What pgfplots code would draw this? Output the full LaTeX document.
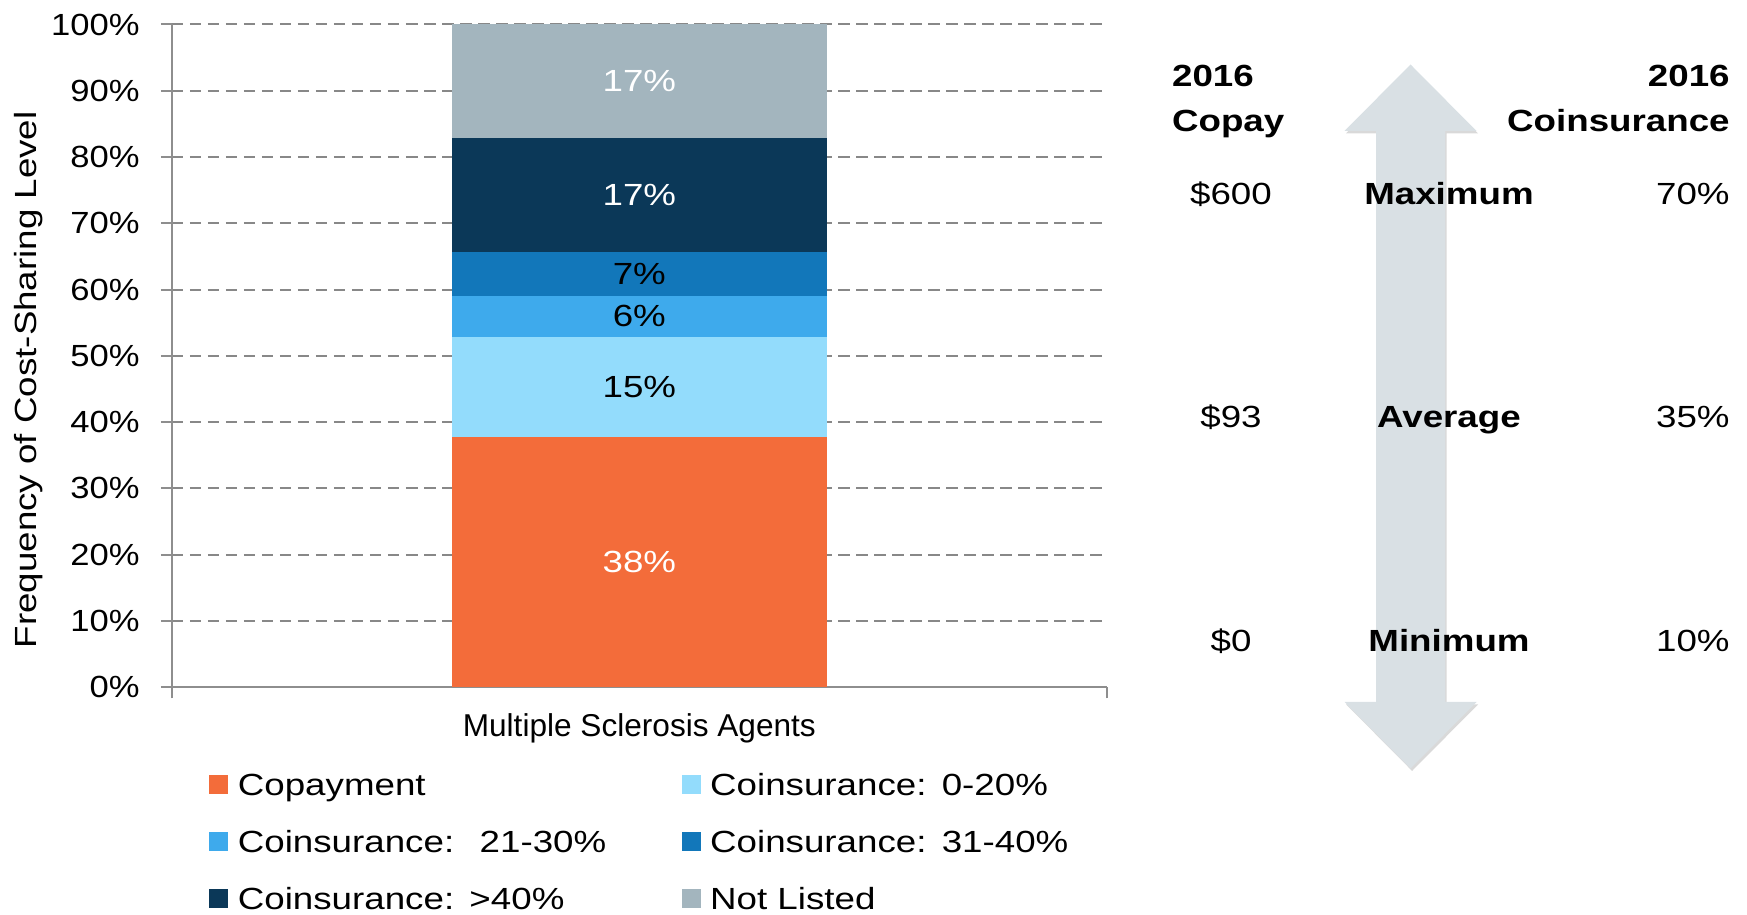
\documentclass[border=0pt]{standalone}
\usepackage{pgfplots}
\pgfplotsset{compat=1.18}
\usepackage{fontspec}
\setmainfont{Liberation Sans}
\newfontfamily\fw{Liberation Sans}[FakeStretch=1.2]
\newfontfamily\ft{Liberation Sans}[FakeStretch=1.13]

\definecolor{copay}{HTML}{F36C3A}
\definecolor{coA}{HTML}{93DCFC}
\definecolor{coB}{HTML}{3EAAEC}
\definecolor{coC}{HTML}{1277BA}
\definecolor{coD}{HTML}{0B3858}
\definecolor{notlisted}{HTML}{A3B5BE}
\definecolor{arrowgray}{HTML}{D9E0E4}
\definecolor{gridgray}{HTML}{888888}
\definecolor{axisgray}{HTML}{8E8E8E}

\newcommand{\fs}{\fontsize{15.3}{18}\selectfont}

\pgfplotsset{
  sqlegend/.style={legend image code/.code={\fill[##1] (0pt,-4.75pt) rectangle (9.5pt,4.75pt);}},
}

\begin{document}
\begin{tikzpicture}
\path[use as bounding box] (-86pt,-113.85pt) rectangle (787.5pt,343.65pt);

\begin{axis}[
  at={(0pt,0pt)}, anchor=south west,
  scale only axis,
  width=467.35pt, height=331.4pt,
  ybar stacked,
  bar width=187.5pt,
  xmin=-1, xmax=1,
  ymin=0, ymax=100,
  xtick={-1,1},
  xticklabels={{},{}},
  extra x ticks={0},
  extra x tick labels={Multiple Sclerosis Agents},
  extra x tick style={major tick length=0pt},
  ytick={0,10,...,100},
  yticklabel={\pgfmathprintnumber{\tick}\%},
  /pgf/number format/assume math mode=true,
  axis x line*=bottom, axis y line*=left,
  axis line style={-, draw=axisgray, line width=1.1pt},
  tick align=outside,
  major tick length=5.5pt,
  tick style={draw=axisgray, line width=1pt},
  ymajorgrids,
  major grid style={draw=gridgray, line width=1pt, dash pattern=on 5.75pt off 3.25pt},
  yticklabel style={font=\ft\fs, anchor=east, inner sep=0pt, xshift=-10.5pt},
  every x tick label/.append style={font=\fontsize{15.8}{18}\selectfont, inner sep=0pt, anchor=north, yshift=-12.8pt},
  ylabel={Frequency of Cost-Sharing Level},
  every axis y label/.style={at={(axis description cs:-0.1535,0.464)}, rotate=90, anchor=center, font=\fw\fs, inner sep=0pt},
  point meta=explicit,
  nodes near coords={\pgfmathprintnumber[fixed,precision=0]{\pgfplotspointmeta}\%},
  every node near coord/.append style={font=\fw\fs, anchor=center},
  legend columns=2,
  legend cell align=left,
  legend style={at={(axis description cs:0.0399,-0.1306)}, anchor=north west,
    draw=none, fill=none, inner sep=0pt, outer sep=0pt, font=\fw\fs,
    row sep=17.4pt,
    nodes={inner sep=0pt, text height=11pt, text depth=0pt, text width=200pt},
    /tikz/every odd column/.append style={column sep=4.8pt},
    /tikz/every even column/.append style={column sep=21.85pt}},
]

\addplot[fill=copay, draw=none, sqlegend, every node near coord/.append style={text=white}]
  table[x=x, y=v, meta=v] {
x v
0 37.7
};
\addlegendentry{Copayment}

\addplot[fill=coA, draw=none, sqlegend, every node near coord/.append style={text=black}]
  table[x=x, y=v, meta=v] {
x v
0 15.1
};
\addlegendentry{Coinsurance: 0-20\%}

\addplot[fill=coB, draw=none, sqlegend, every node near coord/.append style={text=black}]
  table[x=x, y=v, meta=v] {
x v
0 6.3
};
\addlegendentry{Coinsurance:~ 21-30\%}

\addplot[fill=coC, draw=none, sqlegend, every node near coord/.append style={text=black}]
  table[x=x, y=v, meta=v] {
x v
0 6.6
};
\addlegendentry{Coinsurance: 31-40\%}

\addplot[fill=coD, draw=none, sqlegend, every node near coord/.append style={text=white}]
  table[x=x, y=v, meta=v] {
x v
0 17.2
};
\addlegendentry{Coinsurance: >40\%}

\addplot[fill=notlisted, draw=none, sqlegend, every node near coord/.append style={text=white}]
  table[x=x, y=v, meta=v] {
x v
0 17.1
};
\addlegendentry{Not Listed}

\end{axis}

% range arrow
\fill[black, opacity=0.15] ([xshift=0.8pt,yshift=-1.2pt]619.25pt,311.4pt) -- ++(33pt,-33.25pt) -- ++(-15.75pt,0pt) -- ++(0pt,-285.5pt) -- ++(15.75pt,0pt) -- ++(-33pt,-33.25pt) -- ++(-33pt,33.25pt) -- ++(15.75pt,0pt) -- ++(0pt,285.5pt) -- ++(-15.75pt,0pt) -- cycle;
\fill[arrowgray] (619.25pt,311.4pt) -- (652.25pt,278.15pt) -- (636.5pt,278.15pt) -- (636.5pt,-7.35pt) -- (652.25pt,-7.35pt) -- (619.25pt,-40.6pt) -- (586.25pt,-7.35pt) -- (602pt,-7.35pt) -- (602pt,278.15pt) -- (586.25pt,278.15pt) -- cycle;

\begin{scope}[every node/.style={inner sep=0pt, font=\fw\fs}]
\node[anchor=base west, font=\fw\fs\bfseries] at (499.85pt,300.15pt) {2016};
\node[anchor=base west, font=\fw\fs\bfseries] at (499.85pt,277.85pt) {Copay};
\node[anchor=base east, font=\fw\fs\bfseries] at (779pt,300.15pt) {2016};
\node[anchor=base east, font=\fw\fs\bfseries] at (779pt,277.85pt) {Coinsurance};

\node[anchor=base] at (529.5pt,241.15pt) {\$600};
\node[anchor=base, font=\fw\fs\bfseries] at (638.5pt,241.15pt) {Maximum};
\node[anchor=base east] at (779pt,241.15pt) {70\%};

\node[anchor=base] at (529.5pt,129.65pt) {\$93};
\node[anchor=base, font=\fw\fs\bfseries] at (638.5pt,129.65pt) {Average};
\node[anchor=base east] at (779pt,129.65pt) {35\%};

\node[anchor=base] at (529.5pt,17.65pt) {\$0};
\node[anchor=base, font=\fw\fs\bfseries] at (638.5pt,17.65pt) {Minimum};
\node[anchor=base east] at (779pt,17.65pt) {10\%};
\end{scope}
\end{tikzpicture}
\end{document}
